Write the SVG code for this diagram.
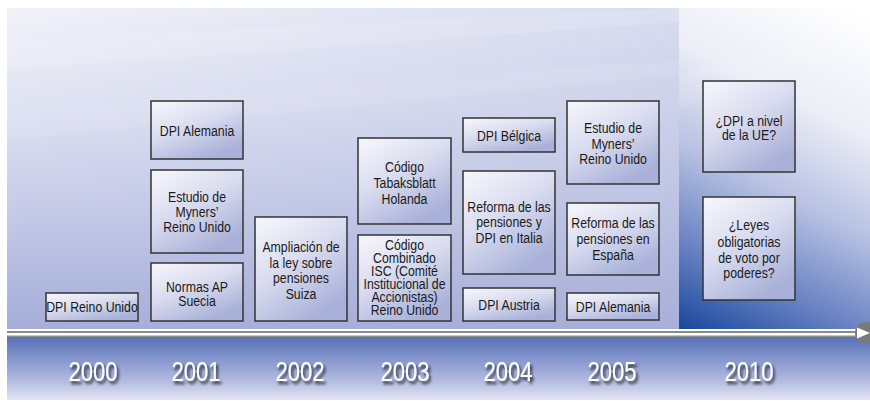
<svg xmlns="http://www.w3.org/2000/svg" width="870" height="403" viewBox="0 0 870 403">
<defs>
<linearGradient id="gMain" x1="0" y1="0" x2="0" y2="1">
<stop offset="0" stop-color="#f1f2f9"/>
<stop offset="0.3" stop-color="#e0e3f2"/>
<stop offset="0.65" stop-color="#c4c9e7"/>
<stop offset="1" stop-color="#a5aed9"/>
</linearGradient>
<linearGradient id="gMainH" x1="0" y1="0" x2="1" y2="0">
<stop offset="0" stop-color="#aab2da" stop-opacity="0"/>
<stop offset="1" stop-color="#aab2da" stop-opacity="0.35"/>
</linearGradient>
<linearGradient id="gRight" gradientUnits="userSpaceOnUse" x1="850" y1="8" x2="690" y2="330">
<stop offset="0" stop-color="#ffffff"/>
<stop offset="0.3" stop-color="#ecedf6"/>
<stop offset="0.55" stop-color="#b7c1e2"/>
<stop offset="0.8" stop-color="#6680c2"/>
<stop offset="1" stop-color="#1c4b9e"/>
</linearGradient>
<linearGradient id="gBand" x1="0" y1="0" x2="0" y2="1">
<stop offset="0" stop-color="#5870b8"/>
<stop offset="0.3" stop-color="#7e91cb"/>
<stop offset="0.7" stop-color="#b3bce0"/>
<stop offset="1" stop-color="#e2e5f3"/>
</linearGradient>
<linearGradient id="gBox" x1="0" y1="0" x2="0.6" y2="1">
<stop offset="0" stop-color="#f7f7fc"/>
<stop offset="0.5" stop-color="#d9dcef"/>
<stop offset="1" stop-color="#a9b1d9"/>
</linearGradient>
<filter id="shadow" x="-20%" y="-30%" width="150%" height="180%">
<feGaussianBlur in="SourceAlpha" stdDeviation="1.6"/>
<feOffset dx="2" dy="3" result="b"/>
<feComponentTransfer><feFuncA type="linear" slope="0.8"/></feComponentTransfer>
<feMerge><feMergeNode/><feMergeNode in="SourceGraphic"/></feMerge>
</filter>
</defs>
<style>
.box{fill:url(#gBox);stroke:#333;stroke-width:1.5}
.t{font-family:"Liberation Sans",Arial,sans-serif;font-size:15px;fill:#1a1a1a;text-anchor:middle}
.yr{font-family:"Liberation Sans",Arial,sans-serif;font-size:27px;fill:#ffffff;text-anchor:middle}
</style>
<rect x="0" y="0" width="870" height="403" fill="#ffffff"/>
<g id="background">
<rect x="7" y="8" width="672" height="321" fill="url(#gMain)"/>
<rect x="7" y="8" width="672" height="321" fill="url(#gMainH)"/>
<polygon points="7,40 679,8 679,22 7,70" fill="#ffffff" opacity="0.12"/>
<polygon points="7,110 679,60 679,75 7,140" fill="#ffffff" opacity="0.08"/>
<rect x="679" y="8" width="191" height="321" fill="url(#gRight)"/>
<polygon points="679,75 870,20 870,40 679,110" fill="#ffffff" opacity="0.1"/>
<rect x="7" y="337" width="863" height="63" fill="url(#gBand)"/>
</g>
<g id="connectors">
<rect x="7" y="331" width="855" height="2" fill="#8a8a8a"/>
<rect x="7" y="333" width="855" height="2.5" fill="#ffffff"/>
<rect x="7" y="335.5" width="855" height="1.5" fill="#8f8f8f"/>
<circle cx="866" cy="333" r="11" fill="#7a7a7a"/>
<polygon points="857,327.5 870,333 857,338.5" fill="#ffffff"/>
</g>
<g id="years" class="yrs" filter="url(#shadow)">
<text class="yr" transform="translate(93 0) scale(0.82 1)" x="0" y="381">2000</text>
<text class="yr" transform="translate(196 0) scale(0.82 1)" x="0" y="381">2001</text>
<text class="yr" transform="translate(300 0) scale(0.82 1)" x="0" y="381">2002</text>
<text class="yr" transform="translate(405 0) scale(0.82 1)" x="0" y="381">2003</text>
<text class="yr" transform="translate(508 0) scale(0.82 1)" x="0" y="381">2004</text>
<text class="yr" transform="translate(612 0) scale(0.82 1)" x="0" y="381">2005</text>
<text class="yr" transform="translate(749 0) scale(0.82 1)" x="0" y="381">2010</text>
</g>
<g id="n2000-dpi-reino-unido">
<rect class="box" x="46" y="293" width="92" height="28"/>
<text class="t" transform="translate(92 0) scale(0.82 1)"><tspan x="0" y="312">DPI Reino Unido</tspan></text>
</g>
<g id="n2001-dpi-alemania">
<rect class="box" x="151" y="101" width="92" height="58"/>
<text class="t" transform="translate(197 0) scale(0.82 1)"><tspan x="0" y="136">DPI Alemania</tspan></text>
</g>
<g id="n2001-estudio-myners">
<rect class="box" x="151" y="170" width="92" height="83"/>
<text class="t" transform="translate(197 0) scale(0.82 1)"><tspan x="0" y="202">Estudio de</tspan><tspan x="0" y="217">Myners’</tspan><tspan x="0" y="232">Reino Unido</tspan></text>
</g>
<g id="n2001-normas-ap">
<rect class="box" x="151" y="263" width="92" height="58"/>
<text class="t" transform="translate(197 0) scale(0.82 1)"><tspan x="0" y="292">Normas AP</tspan><tspan x="0" y="306">Suecia</tspan></text>
</g>
<g id="n2002-ampliacion">
<rect class="box" x="255" y="217" width="92" height="104"/>
<text class="t" transform="translate(301 0) scale(0.82 1)"><tspan x="0" y="252">Ampliación de</tspan><tspan x="0" y="268">la ley sobre</tspan><tspan x="0" y="283">pensiones</tspan><tspan x="0" y="299">Suiza</tspan></text>
</g>
<g id="n2003-tabaksblatt">
<rect class="box" x="358" y="138" width="93" height="86"/>
<text class="t" transform="translate(404.5 0) scale(0.82 1)"><tspan x="0" y="172">Código</tspan><tspan x="0" y="188">Tabaksblatt</tspan><tspan x="0" y="204">Holanda</tspan></text>
</g>
<g id="n2003-codigo-combinado">
<rect class="box" x="358" y="235" width="93" height="86"/>
<text class="t" transform="translate(404.5 0) scale(0.82 1)"><tspan x="0" y="250">Código</tspan><tspan x="0" y="263">Combinado</tspan><tspan x="0" y="276">ISC (Comité</tspan><tspan x="0" y="289">Institucional de</tspan><tspan x="0" y="302">Accionistas)</tspan><tspan x="0" y="315">Reino Unido</tspan></text>
</g>
<g id="n2004-dpi-belgica">
<rect class="box" x="463" y="118" width="92" height="34"/>
<text class="t" transform="translate(509 0) scale(0.82 1)"><tspan x="0" y="141">DPI Bélgica</tspan></text>
</g>
<g id="n2004-reforma-italia">
<rect class="box" x="463" y="171" width="92" height="103"/>
<text class="t" transform="translate(509 0) scale(0.82 1)"><tspan x="0" y="212">Reforma de las</tspan><tspan x="0" y="227">pensiones y</tspan><tspan x="0" y="243">DPI en Italia</tspan></text>
</g>
<g id="n2004-dpi-austria">
<rect class="box" x="463" y="288" width="92" height="33"/>
<text class="t" transform="translate(509 0) scale(0.82 1)"><tspan x="0" y="310">DPI Austria</tspan></text>
</g>
<g id="n2005-estudio-myners">
<rect class="box" x="567" y="101" width="92" height="83"/>
<text class="t" transform="translate(613 0) scale(0.82 1)"><tspan x="0" y="133">Estudio de</tspan><tspan x="0" y="149">Myners’</tspan><tspan x="0" y="164">Reino Unido</tspan></text>
</g>
<g id="n2005-reforma-espana">
<rect class="box" x="567" y="203" width="92" height="72"/>
<text class="t" transform="translate(613 0) scale(0.82 1)"><tspan x="0" y="228">Reforma de las</tspan><tspan x="0" y="244">pensiones en</tspan><tspan x="0" y="260">España</tspan></text>
</g>
<g id="n2005-dpi-alemania">
<rect class="box" x="567" y="293" width="92" height="27"/>
<text class="t" transform="translate(613 0) scale(0.82 1)"><tspan x="0" y="312">DPI Alemania</tspan></text>
</g>
<g id="n2010-dpi-ue">
<rect class="box" x="703" y="81" width="92" height="91"/>
<text class="t" transform="translate(749 0) scale(0.82 1)"><tspan x="0" y="126">¿DPI a nivel</tspan><tspan x="0" y="140">de la UE?</tspan></text>
</g>
<g id="n2010-leyes">
<rect class="box" x="703" y="197" width="92" height="103"/>
<text class="t" transform="translate(749 0) scale(0.82 1)"><tspan x="0" y="230">¿Leyes</tspan><tspan x="0" y="247">obligatorias</tspan><tspan x="0" y="263">de voto por</tspan><tspan x="0" y="278">poderes?</tspan></text>
</g>
</svg>
